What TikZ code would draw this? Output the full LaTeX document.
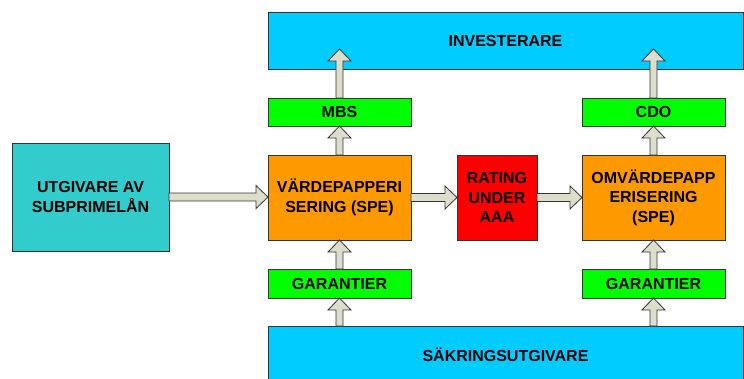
\documentclass[tikz,border=0pt]{standalone}
\usepackage{fontspec}
\setmainfont{Liberation Sans}
\usetikzlibrary{calc}
\definecolor{tealbox}{HTML}{33CCCC}
\definecolor{cyanbox}{HTML}{00CCFF}
\definecolor{greenbox}{HTML}{00FF00}
\definecolor{orangebox}{HTML}{FF9900}
\definecolor{redbox}{HTML}{FF0000}
\definecolor{arrfill}{HTML}{DDDDCC}
\definecolor{edgecol}{HTML}{333333}
\newcommand\upblock[2]{\draw[barrow] let \p1=(#1), \p2=(#2) in
  (\x1-3.5pt,\y1) -- (\x1-3.5pt,\y2-12pt) -- (\x1-11.5pt,\y2-12pt) -- (\x1,\y2)
  -- (\x1+11.5pt,\y2-12pt) -- (\x1+3.5pt,\y2-12pt) -- (\x1+3.5pt,\y1) -- cycle;}
\newcommand\rightblock[2]{\draw[barrow] let \p1=(#1), \p2=(#2) in
  (\x1,\y1-4pt) -- (\x2-12pt,\y1-4pt) -- (\x2-12pt,\y1-11.5pt) -- (\x2,\y1)
  -- (\x2-12pt,\y1+11.5pt) -- (\x2-12pt,\y1+4pt) -- (\x1,\y1+4pt) -- cycle;}
\begin{document}
\begin{tikzpicture}[x=1pt,y=-1pt,
  box/.style={draw=edgecol, line width=0.8pt, inner sep=0pt, outer sep=0pt, align=center,
    font=\fontsize{16}{19.5}\selectfont\bfseries},
  barrow/.style={draw=edgecol, fill=arrfill, line width=0.8pt, line join=miter}]
\path[use as bounding box] (0,0) rectangle (744,378);
\clip (0,0) rectangle (744,378);
\node[box, fill=tealbox, minimum width=157pt, minimum height=108pt] (utg) at (90.5,197) {UTGIVARE AV\\SUBPRIMELÅN};
\node[box, fill=cyanbox, minimum width=475pt, minimum height=57pt] (inv) at (505.5,40.5) {INVESTERARE};
\node[box, fill=greenbox, minimum width=143pt, minimum height=28pt] (mbs) at (339.5,112) {MBS};
\node[box, fill=greenbox, minimum width=143pt, minimum height=28pt] (cdo) at (653.5,112) {CDO};
\node[box, fill=orangebox, minimum width=143pt, minimum height=85pt] (vp) at (339.5,197.5) {VÄRDEPAPPERI\\SERING (SPE)};
\node[box, fill=redbox, minimum width=80pt, minimum height=85pt] (rat) at (497,197.5) {RATING\\UNDER\\AAA};
\node[box, fill=orangebox, minimum width=143pt, minimum height=85pt] (omv) at (653.5,197.5) {OMVÄRDEPAPP\\ERISERING\\(SPE)};
\node[box, fill=greenbox, minimum width=143pt, minimum height=29pt] (gar1) at (339.5,283.5) {GARANTIER};
\node[box, fill=greenbox, minimum width=143pt, minimum height=29pt] (gar2) at (653.5,283.5) {GARANTIER};
\node[box, fill=cyanbox, minimum width=475pt, minimum height=58pt] (sak) at (505.5,355) {SÄKRINGSUTGIVARE};
\coordinate (tipL) at (mbs.north |- 0,49);
\coordinate (tipR) at (cdo.north |- 0,49);
\coordinate (sakL) at (gar1.south |- sak.north);
\coordinate (sakR) at (gar2.south |- sak.north);
\rightblock{utg.east}{vp.west}
\rightblock{vp.east}{rat.west}
\rightblock{rat.east}{omv.west}
\upblock{mbs.north}{tipL}
\upblock{cdo.north}{tipR}
\upblock{vp.north}{mbs.south}
\upblock{omv.north}{cdo.south}
\upblock{gar1.north}{vp.south}
\upblock{gar2.north}{omv.south}
\upblock{sakL}{gar1.south}
\upblock{sakR}{gar2.south}
\end{tikzpicture}
\end{document}
